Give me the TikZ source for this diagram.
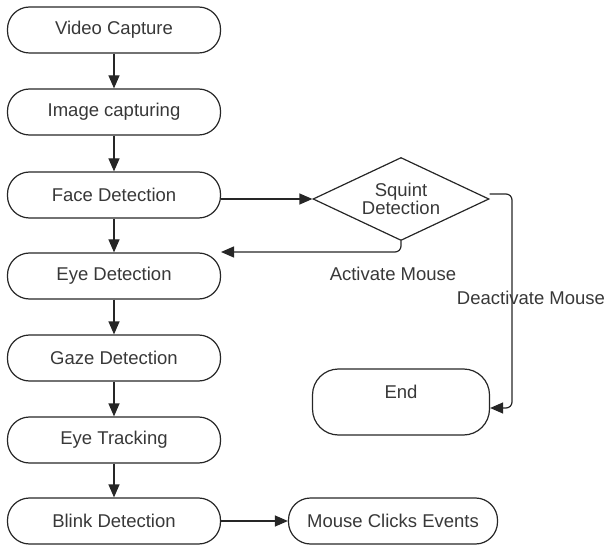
\documentclass[tikz,border=0pt]{standalone}
\usepackage{fontspec}
\setmainfont{Liberation Sans}
\usetikzlibrary{arrows.meta,shapes.geometric}

\tikzset{
	stage/.style={draw, rounded corners=22pt, minimum width=213pt, minimum height=46pt, inner sep=0pt},
	decision/.style={draw, diamond, minimum width=176pt, minimum height=83pt, inner sep=0pt},
	flow/.style={-{Triangle[length=13pt,width=11pt]}}
}

\begin{document}
\begin{tikzpicture}[x=1pt, y=-1pt, line width=1.2pt, draw=black!85, text=black!78, font=\fontsize{18.5}{21}\selectfont]
	\useasboundingbox (0,0) rectangle (608,548);

	% left column
	\node[stage] (video) at (114,30) {Video Capture};
	\node[stage] (image) at (114,112) {Image capturing};
	\node[stage] (face) at (114,195) {Face Detection};
	\node[stage] (eye) at (114,276) {Eye Detection};
	\node[stage] (gaze) at (114,358) {Gaze Detection};
	\node[stage] (track) at (114,440) {Eye Tracking};
	\node[stage] (blink) at (114,521) {Blink Detection};

	\node[stage, minimum width=209pt] (clicks) at (393,521) {Mouse Clicks Events};
	\node[decision, label={[align=center, font=\fontsize{18.5}{18}\selectfont]center:{Squint\\Detection}}] (squint) at (401,199) {};
	\node[stage, rounded corners=26pt, minimum width=177pt, minimum height=66pt, label={[yshift=10pt]center:End}] (end) at (401,402) {};

	\foreach \a/\b in {video/image,image/face,face/eye,eye/gaze,gaze/track,track/blink}
	{
	\draw[flow] (\a) -- (\b);
}

	\coordinate (act) at (221,252);
	\coordinate (turn) at (512,300);

	\draw[flow] (face.east |- squint.west) -- (squint.west);
	\draw[flow, rounded corners=6pt] (squint.south) |- (act);
	\draw[flow, rounded corners=6pt] ([yshift=5pt]squint.east) -| (turn) |- ([yshift=-6pt]end.east);
	\draw[flow] (blink) -- (clicks);

	\node (actlbl) at (393,274) {Activate Mouse};
	\node (deactlbl) at (531,298) {Deactivate Mouse};

\end{tikzpicture}
\end{document}
